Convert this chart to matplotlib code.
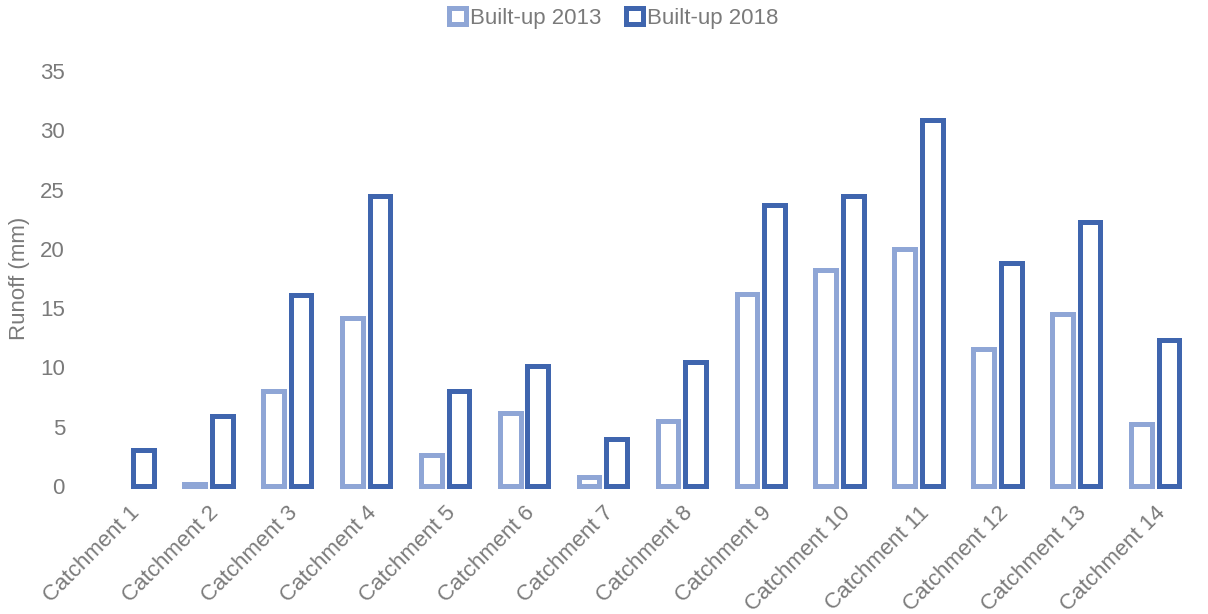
import matplotlib.pyplot as plt
import numpy as np
from matplotlib.patches import Patch

plt.rcParams['font.family'] = ['Liberation Sans', 'DejaVu Sans']

catchments = ['Catchment 1', 'Catchment 2', 'Catchment 3', 'Catchment 4', 'Catchment 5',
              'Catchment 6', 'Catchment 7', 'Catchment 8', 'Catchment 9', 'Catchment 10',
              'Catchment 11', 'Catchment 12', 'Catchment 13', 'Catchment 14']
builtup_2013 = [0.0, 0.2, 8.0, 14.2, 2.6, 6.2, 0.8, 5.5, 16.2, 18.2, 20.0, 11.6, 14.5, 5.2]
builtup_2018 = [3.0, 5.9, 16.1, 24.5, 8.0, 10.1, 4.0, 10.5, 23.7, 24.5, 30.9, 18.8, 22.3, 12.3]

c13 = '#8FA6D6'
c18 = '#3F65AE'
txt = '#7a7a7a'
fs = 16

fig = plt.figure(figsize=(12.08, 6.14), dpi=100)
ax = fig.add_axes([0.0745, 0.2085, 0.9145, 0.6755])

x = np.arange(len(catchments))
off = 0.175
w = 0.262
b1 = ax.bar(x - off, builtup_2013, w, facecolor='white', edgecolor=c13, linewidth=3.6, clip_on=False)
b2 = ax.bar(x + off, builtup_2018, w, facecolor='white', edgecolor=c18, linewidth=3.6, clip_on=False)
# zero values are not drawn at all
for bar in list(b1) + list(b2):
    if bar.get_height() == 0:
        bar.set_visible(False)

ax.set_xlim(-0.5, len(catchments) - 0.5)
ax.set_ylim(0, 35)
ax.set_yticks(range(0, 36, 5))
ax.set_xticks(x)
ax.set_xticklabels(catchments, rotation=45, ha='right', rotation_mode='anchor')
ax.tick_params(axis='both', length=0, labelsize=fs, labelcolor=txt)
ax.tick_params(axis='y', pad=18)
ax.tick_params(axis='x', pad=12)
for s in ax.spines.values():
    s.set_visible(False)
ax.set_ylabel('Runoff (mm)', fontsize=fs, color=txt, labelpad=7)

handles = [Patch(facecolor='white', edgecolor=c13, linewidth=3.6, label='Built-up 2013'),
           Patch(facecolor='white', edgecolor=c18, linewidth=3.6, label='Built-up 2018')]
fig.legend(handles=handles, loc='center', bbox_to_anchor=(0.508, 0.97), ncol=2, frameon=False,
           fontsize=fs, labelcolor=txt, handlelength=0.75, handleheight=0.75,
           handletextpad=0.2, columnspacing=1.1)

plt.savefig('out.png', dpi=100)
